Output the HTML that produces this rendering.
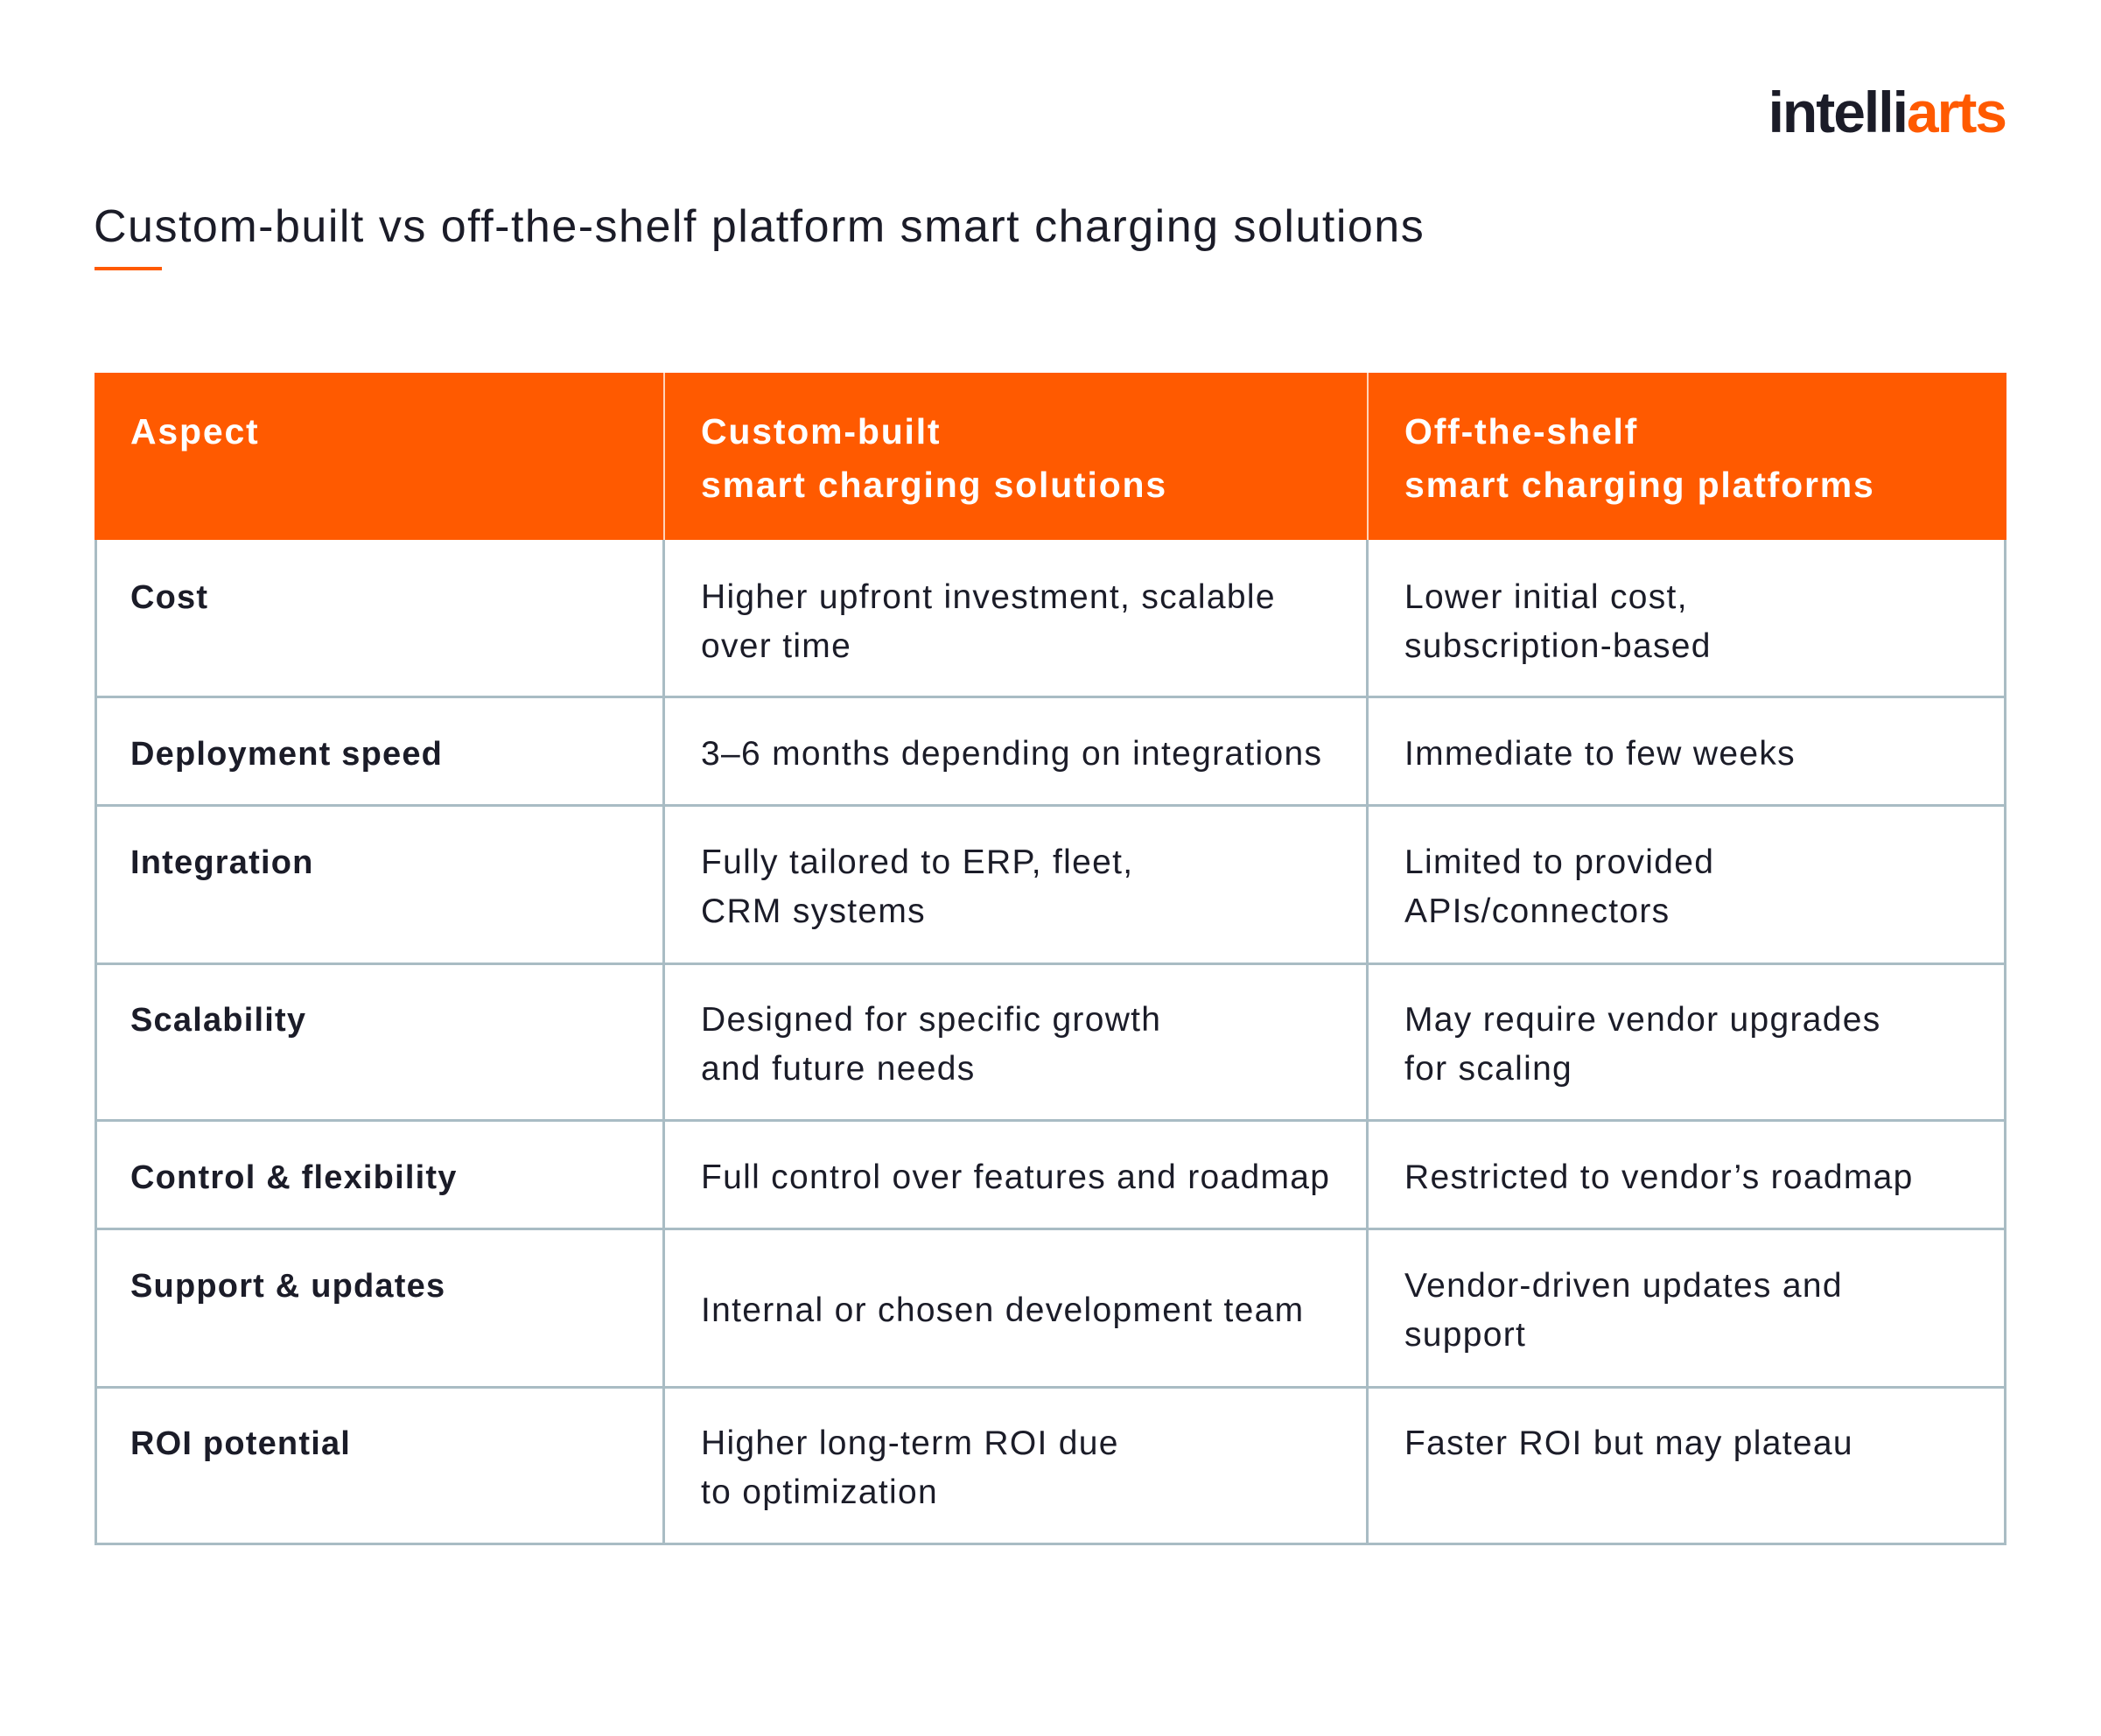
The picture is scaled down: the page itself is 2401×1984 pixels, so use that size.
<!DOCTYPE html>
<html><head><meta charset="utf-8"><style>
body{margin:0;width:2401px;height:1984px;background:#fff;position:relative;overflow:hidden;font-family:"Liberation Sans",sans-serif;color:#1b1c28}
.logo{position:absolute;right:109px;top:88px;font-size:66px;font-weight:bold;letter-spacing:-2px;line-height:80px}
.logo span{color:#ff5a00}
.title{position:absolute;left:107px;top:227px;font-size:52px;letter-spacing:1.5px;line-height:64px}
.ul{position:absolute;left:108px;top:305px;width:77px;height:4px;background:#ff5a00}
.hdr{position:absolute;left:108px;top:426px;width:2185px;height:191px;background:#ff5a00}
.hl{position:absolute;left:758px;top:426px;width:2px;height:191px;background:#ffd2b8}
.hl2{left:1562px}
.vl{position:absolute;width:3px;background:#a9bcc4;top:617px;height:1149px}
.hln{position:absolute;left:108px;width:2185px;height:3px;background:#a9bcc4}
.t{position:absolute;font-size:39px;line-height:56px;letter-spacing:1.3px}
.h{color:#fff;font-weight:bold;font-size:41px;line-height:61px;letter-spacing:1.8px}
.b{font-weight:bold;font-size:38px;letter-spacing:1.2px}
</style></head><body>
<div class="logo">intelli<span>arts</span></div>
<div class="title">Custom-built vs off-the-shelf platform smart charging solutions</div>
<div class="ul"></div>
<div class="hdr"></div>
<div class="hl"></div><div class="hl hl2"></div>
<div class="vl" style="left:108px"></div>
<div class="vl" style="left:757px"></div>
<div class="vl" style="left:1561px"></div>
<div class="vl" style="left:2290px"></div>
<div class="hln" style="top:795px"></div>
<div class="hln" style="top:919px"></div>
<div class="hln" style="top:1100px"></div>
<div class="hln" style="top:1279px"></div>
<div class="hln" style="top:1403px"></div>
<div class="hln" style="top:1584px"></div>
<div class="hln" style="top:1763px"></div>

<div class="t h" style="left:149px;top:463px">Aspect</div>
<div class="t h" style="left:801px;top:463px">Custom-built<br>smart charging solutions</div>
<div class="t h" style="left:1605px;top:463px">Off-the-shelf<br>smart charging platforms</div>

<div class="t b" style="left:149px;top:655px">Cost</div>
<div class="t" style="left:801px;top:655px">Higher upfront investment, scalable<br>over time</div>
<div class="t" style="left:1605px;top:655px">Lower initial cost,<br>subscription-based</div>

<div class="t b" style="left:149px;top:834px">Deployment speed</div>
<div class="t" style="left:801px;top:834px">3–6 months depending on integrations</div>
<div class="t" style="left:1605px;top:834px">Immediate to few weeks</div>

<div class="t b" style="left:149px;top:958px">Integration</div>
<div class="t" style="left:801px;top:958px">Fully tailored to ERP, fleet,<br>CRM systems</div>
<div class="t" style="left:1605px;top:958px">Limited to provided<br>APIs/connectors</div>

<div class="t b" style="left:149px;top:1138px">Scalability</div>
<div class="t" style="left:801px;top:1138px">Designed for specific growth<br>and future needs</div>
<div class="t" style="left:1605px;top:1138px">May require vendor upgrades<br>for scaling</div>

<div class="t b" style="left:149px;top:1318px">Control &amp; flexibility</div>
<div class="t" style="left:801px;top:1318px">Full control over features and roadmap</div>
<div class="t" style="left:1605px;top:1318px">Restricted to vendor’s roadmap</div>

<div class="t b" style="left:149px;top:1442px">Support &amp; updates</div>
<div class="t" style="left:801px;top:1470px">Internal or chosen development team</div>
<div class="t" style="left:1605px;top:1442px">Vendor-driven updates and<br>support</div>

<div class="t b" style="left:149px;top:1622px">ROI potential</div>
<div class="t" style="left:801px;top:1622px">Higher long-term ROI due<br>to optimization</div>
<div class="t" style="left:1605px;top:1622px">Faster ROI but may plateau</div>
</body></html>
